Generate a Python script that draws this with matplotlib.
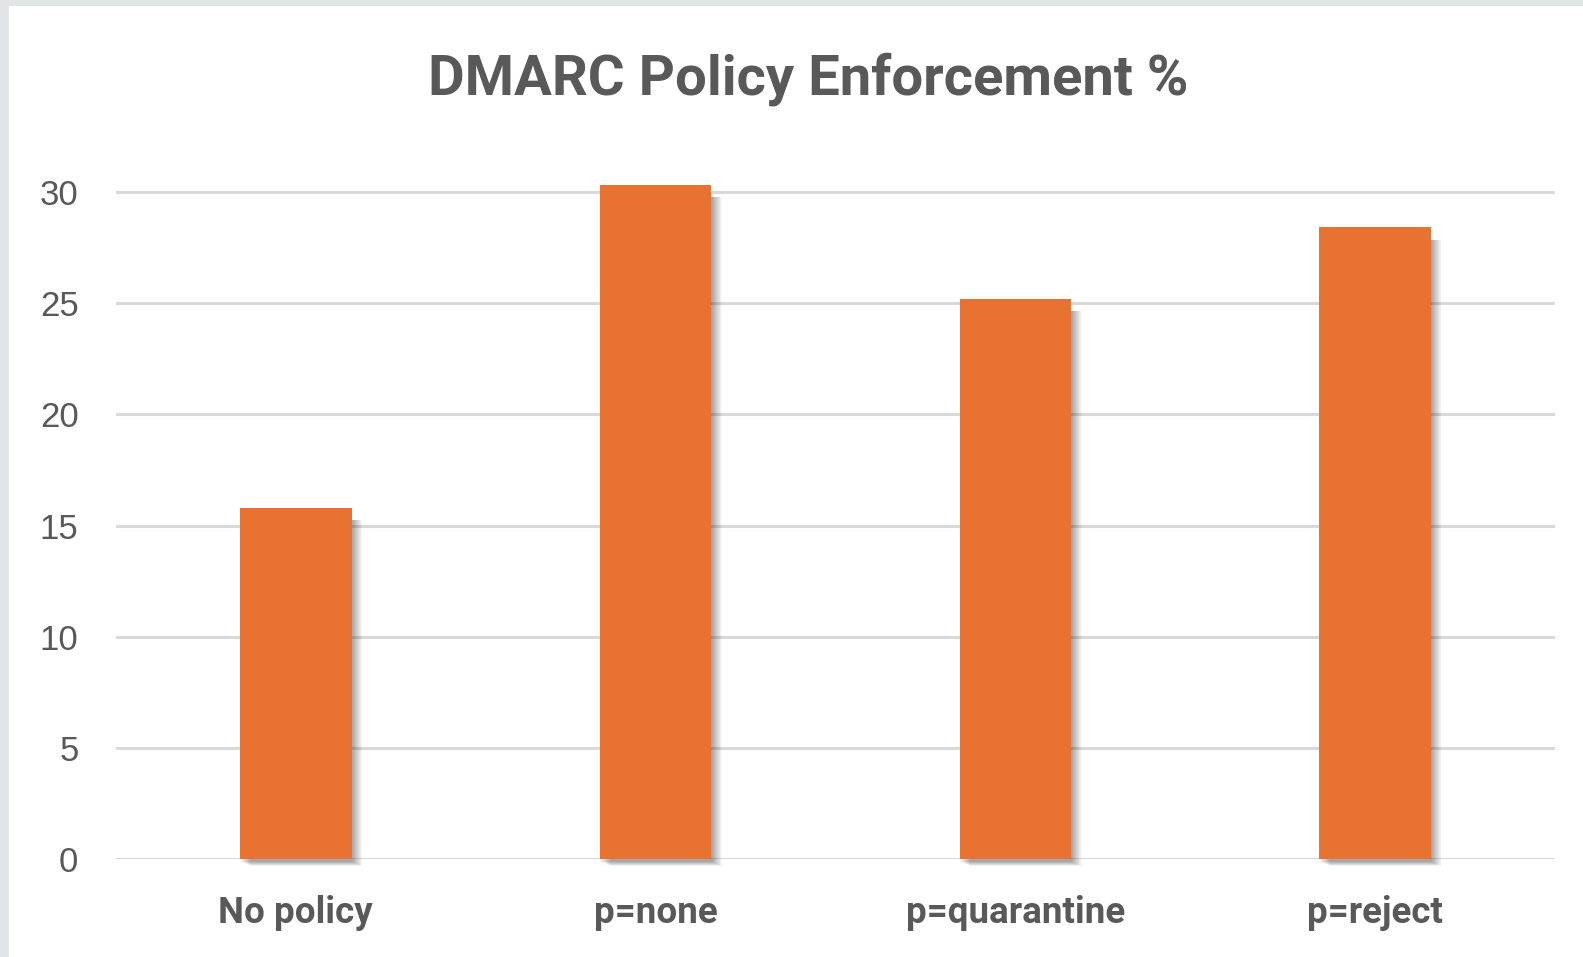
import matplotlib
matplotlib.use("Agg")
import matplotlib.pyplot as plt
from matplotlib import font_manager
from matplotlib.patches import Rectangle

categories = ["No policy", "p=none", "p=quarantine", "p=reject"]
values = [15.8, 30.3, 25.2, 28.4]
yticks = [0, 5, 10, 15, 20, 25, 30]

BAR_COLOR = "#E87232"
TEXT_COLOR = "#595959"
GRID_COLOR = "#D9D9D9"

installed = {f.name for f in font_manager.fontManager.ttflist}


def pick(cands, default="DejaVu Sans"):
    for c in cands:
        if c in installed:
            return c
    return default


heading = pick(["Roboto", "Noto Sans", "Liberation Sans"])
regular = pick(["Liberation Sans", "Roboto", "DejaVu Sans"])

fig = plt.figure(figsize=(15.83, 9.57), dpi=100)
fig.patch.set_facecolor("white")

# light grey frame strips around the card
fig.patches.append(Rectangle((0, 0), 9 / 1583, 1, transform=fig.transFigure,
                             facecolor="#E2E5E5", edgecolor="none", zorder=0))
fig.patches.append(Rectangle((0, 1 - 6 / 957), 1, 6 / 957, transform=fig.transFigure,
                             facecolor="#E2E5E5", edgecolor="none", zorder=0))

ax = fig.add_axes([116 / 1583, 1 - 859.3 / 957, (1555 - 116) / 1583, (859.3 - 169.6) / 957])
ax.set_xlim(-0.5, len(categories) - 0.5)
ax.set_ylim(0, 31)

x = list(range(len(categories)))
width = 0.31

# soft shadow behind the bars (stacked translucent layers)
for i, v in enumerate(values):
    for k in range(1, 15):
        dx = 0.0021 * k
        ax.add_patch(Rectangle((x[i] - width / 2 + dx, -0.10 - 0.014 * k),
                               width, v - 0.45 + 0.014 * k,
                               facecolor="black", alpha=0.026, edgecolor="none",
                               zorder=2, clip_on=False))

ax.bar(x, values, width=width, color=BAR_COLOR, zorder=3, clip_on=False)

for t in yticks:
    ax.axhline(t, color=GRID_COLOR, linewidth=2.2, zorder=1)

ax.set_yticks(yticks)
ax.set_yticklabels([str(t) for t in yticks], fontsize=25, color=TEXT_COLOR,
                   family=regular)
ax.set_xticks(x)
ax.set_xticklabels(categories, fontsize=26.5, color=TEXT_COLOR, family=heading,
                   fontweight="bold")
ax.tick_params(axis="y", length=0, pad=27)
ax.tick_params(axis="x", length=0, pad=26)
for s in ax.spines.values():
    s.set_visible(False)
ax.grid(False)

fig.text(808 / 1583, 1 - 79 / 957, "DMARC Policy Enforcement %", ha="center", va="center",
         fontsize=40.5, fontweight="bold", color=TEXT_COLOR, family=heading)

fig.savefig("out.png", dpi=100, facecolor="white")
